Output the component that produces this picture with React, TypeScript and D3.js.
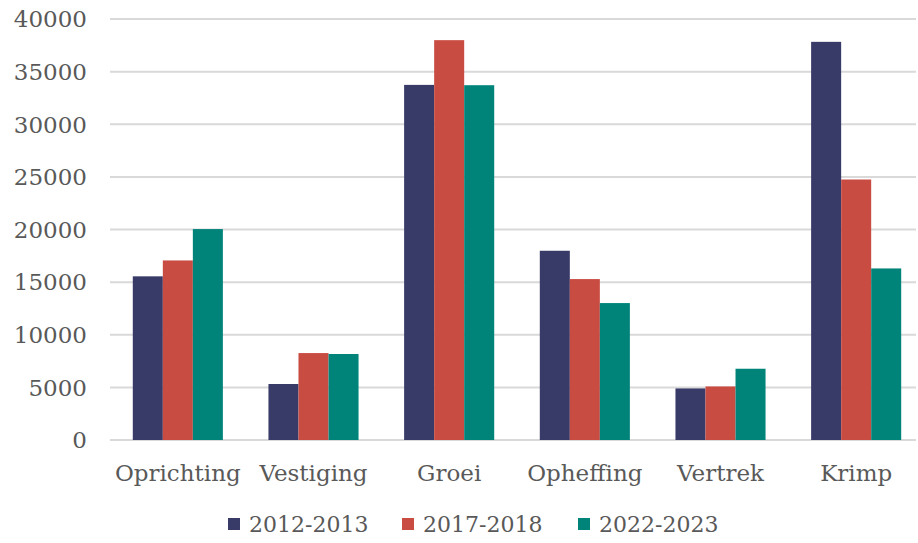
import React from 'react';
import * as d3 from 'd3';

// categories and series
const categories = ['Oprichting', 'Vestiging', 'Groei', 'Opheffing', 'Vertrek', 'Krimp'];
const seriesNames = ['2012-2013', '2017-2018', '2022-2023'];
const values2012 = [15550, 5320, 33740, 17980, 4900, 37830];
const values2017 = [17060, 8260, 37990, 15290, 5090, 24750];
const values2022 = [20040, 8170, 33710, 13010, 6770, 16300];
const yTicks = [0, 5000, 10000, 15000, 20000, 25000, 30000, 35000, 40000];

const colors = ['#383A67', '#C94C43', '#00847A'];
const W = 918;
const H = 543;
const font = '"DejaVu Serif", serif';

export default function App() {
  const series = [values2012, values2017, values2022];

  // plot area (the band range runs a bit past the right edge, as in the original)
  const left = 110;
  const right = 924;
  const top = 19;
  const bottom = 440;

  const x = d3.scaleBand<string>().domain(categories).range([left, right]).paddingInner(0.336).paddingOuter(0.168);
  const xs = d3.scaleBand<string>().domain(seriesNames).range([0, x.bandwidth()]);
  const y = d3.scaleLinear().domain([0, 40000]).range([bottom, top]);

  // legend positions
  const legendX = [228, 402, 578];

  return (
    <svg width={W} height={H} style={{ position: 'absolute', left: 0, top: 0, background: '#fff' }}>
      {/* grid lines */}
      {yTicks.map((t) => (
        <line key={'g' + t} x1={left} x2={W - 2} y1={y(t)} y2={y(t)} stroke="#d9d9d9" strokeWidth={2} />
      ))}
      {/* y tick labels */}
      {yTicks.map((t) => (
        <text key={'t' + t} x={87} y={y(t)} dy="0.36em" textAnchor="end" fontFamily={font} fontSize={23} fill="#595959">
          {t}
        </text>
      ))}
      {/* bars */}
      {categories.map((c, i) => (
        <g key={c} transform={`translate(${x(c)},0)`}>
          {seriesNames.map((s, j) => (
            <rect
              key={s}
              x={xs(s)}
              y={y(series[j][i])}
              width={xs.bandwidth()}
              height={y(0) - y(series[j][i])}
              fill={colors[j]}
            />
          ))}
        </g>
      ))}
      {/* category labels */}
      {categories.map((c) => (
        <text key={'c' + c} x={(x(c) ?? 0) + x.bandwidth() / 2} y={481} textAnchor="middle" fontFamily={font} fontSize={23} fill="#595959">
          {c}
        </text>
      ))}
      {/* legend */}
      {seriesNames.map((s, j) => (
        <g key={'l' + s} transform={`translate(${legendX[j]},0)`}>
          <rect x={0} y={518} width={12} height={12} fill={colors[j]} />
          <text x={21} y={524} dy="0.36em" fontFamily={font} fontSize={22} fill="#595959">
            {s}
          </text>
        </g>
      ))}
    </svg>
  );
}
